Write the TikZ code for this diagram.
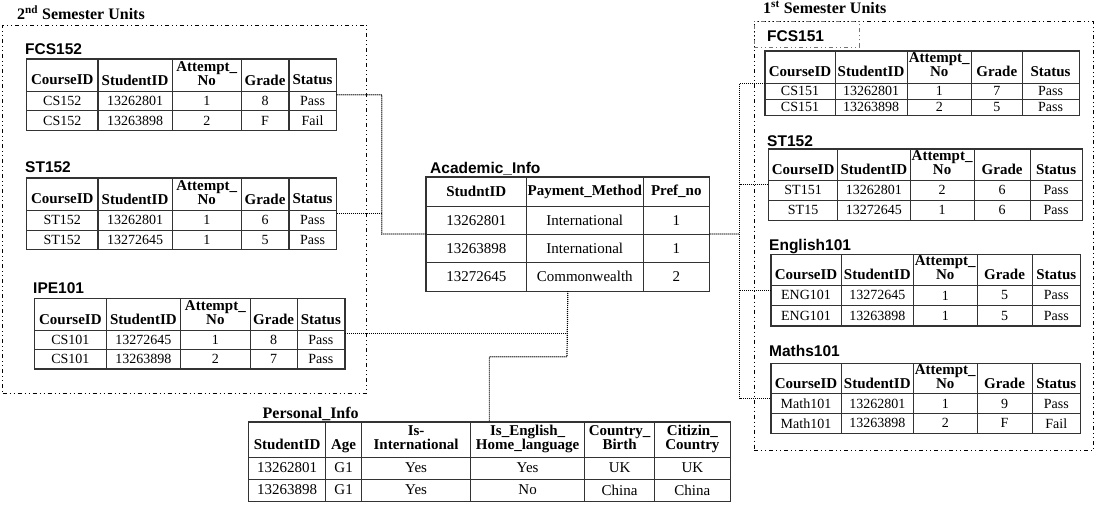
\documentclass[tikz,border=0pt]{standalone}
\usepackage{fontspec}
\setmainfont{Liberation Serif}
\newfontfamily\titlesans{Liberation Sans}
\usetikzlibrary{matrix}

\newcommand\smallcell{\fontsize{14}{13}\selectfont}
\newcommand\smallhead{\fontsize{15}{13.5}\selectfont\bfseries}
\newcommand\bigcell{\fontsize{15}{14.5}\selectfont}
% two-line header text, centred
\newcommand\hd[2]{\begin{tabular}{@{}c@{}}#1\\#2\end{tabular}}

\tikzset{
  cell/.style={draw=black!80, line width=0.6pt, inner sep=0pt, outer sep=0pt,
    anchor=center, text=black},
  tbl/.style={matrix of nodes, inner sep=0pt, outer sep=0pt,
    column sep=-0.6pt, row sep=-0.6pt, anchor=north west, nodes={cell}},
  smalltbl/.style={tbl, nodes={font=\smallcell}},
  bigtbl/.style={tbl, nodes={font=\bigcell}},
  cols5/.style n args={5}{
    column 1/.style={nodes={minimum width=#1}},
    column 2/.style={nodes={minimum width=#2}},
    column 3/.style={nodes={minimum width=#3}},
    column 4/.style={nodes={minimum width=#4}},
    column 5/.style={nodes={minimum width=#5}}},
  rows/.style 2 args={nodes={minimum height=#2},
    row 1/.style={nodes={minimum height=#1, font=\smallhead}}},
  bigrows/.style 2 args={nodes={minimum height=#2},
    row 1/.style={nodes={minimum height=#1, font=\bigcell\bfseries}}},
  frame/.style={draw=black!80, line width=1.2pt},
  tabtitle/.style={anchor=base west, inner sep=0pt, font=\titlesans\bfseries\fontsize{15.5}{16}\selectfont},
  grptitle/.style={anchor=base west, inner sep=0pt, font=\bfseries\fontsize{16}{16}\selectfont},
  grpbox/.style={draw=black, line width=0.9pt, inner sep=0pt, outer sep=0pt,
    dash pattern=on 4pt off 3pt on 1pt off 3pt on 1pt off 3pt, anchor=north west},
  conn/.style={draw=black, line width=1.2pt, dash pattern=on 1pt off 1pt},
}

\begin{document}
\begin{tikzpicture}[x=1pt,y=-1pt]
\useasboundingbox[fill=white] (0,0) rectangle (1097,505);

% ---------- semester groups ----------
\node (sem2) [grpbox, minimum width=364, minimum height=368] at (2.5,25) {};
\node (sem2lbl) [grptitle] at (17,20) {2\textsuperscript{nd} Semester Units};
\node (sem1) [grpbox, minimum width=339, minimum height=429] at (754,21.5) {};
\node (sem1lbl) [grptitle] at (763,14) {1\textsuperscript{st} Semester Units};
\node (fcsframe) [grpbox, draw=black!55, minimum width=105, minimum height=26] at (754,21.5) {};

% ---------- 2nd semester tables ----------
\node (t152) [tabtitle] at (25,55) {FCS152};
\matrix (fcs152) [smalltbl, cols5={71}{74.5}{69}{47.5}{47.5}, rows={32}{19.5}] at (26.5,59) {
  \hd{}{CourseID} & \hd{}{StudentID} & \hd{Attempt\_}{No} & \hd{}{Grade} & \hd{}{Status} \\
  CS152 & 13262801 & 1 & 8 & Pass \\
  CS152 & 13263898 & 2 & F & Fail \\
};
\draw[frame] (fcs152.north west) rectangle (fcs152.south east);

\node (tst152) [tabtitle] at (25,173) {ST152};
\matrix (st152) [smalltbl, cols5={71}{74.5}{69}{47.5}{47.5}, rows={32}{19.5}] at (26.5,178) {
  \hd{}{CourseID} & \hd{}{StudentID} & \hd{Attempt\_}{No} & \hd{}{Grade} & \hd{}{Status} \\
  ST152 & 13262801 & 1 & 6 & Pass \\
  ST152 & 13272645 & 1 & 5 & Pass \\
};
\draw[frame] (st152.north west) rectangle (st152.south east);

\node (tipe) [tabtitle] at (33,293) {IPE101};
\matrix (ipe101) [smalltbl, cols5={71.5}{74.5}{69.5}{47}{47.5}, rows={32}{19}] at (34.3,298.3) {
  \hd{}{CourseID} & \hd{}{StudentID} & \hd{Attempt\_}{No} & \hd{}{Grade} & \hd{}{Status} \\
  CS101 & 13272645 & 1 & 8 & Pass \\
  CS101 & 13263898 & 2 & 7 & Pass \\
};
\draw[frame] (ipe101.north west) rectangle (ipe101.south east);

% ---------- 1st semester tables ----------
\node (t151) [tabtitle] at (767,41.5) {FCS151};
\matrix (fcs151) [smalltbl, cols5={69.5}{72.5}{64}{51}{56.5}, rows={32}{16.2}] at (765,50.7) {
  \hd{}{CourseID} & \hd{}{StudentID} & \hd{Attempt\_}{No} & \hd{}{Grade} & \hd{}{Status} \\
  CS151 & 13262801 & 1 & 7 & Pass \\
  CS151 & 13263898 & 2 & 5 & Pass \\
};
\draw[frame] (fcs151.north west) rectangle (fcs151.south east);

\node (tst152r) [tabtitle] at (767,147) {ST152};
\matrix (st152r) [smalltbl, cols5={69}{72.5}{64}{56}{52}, rows={31}{20}] at (768.3,149) {
  \hd{}{CourseID} & \hd{}{StudentID} & \hd{Attempt\_}{No} & \hd{}{Grade} & \hd{}{Status} \\
  ST151 & 13262801 & 2 & 6 & Pass \\
  ST15 & 13272645 & 1 & 6 & Pass \\
};
\draw[frame] (st152r.north west) rectangle (st152r.south east);

\node (teng) [tabtitle] at (769,250) {English101};
\matrix (eng101) [smalltbl, cols5={70}{72.5}{63.5}{55}{48.5}, rows={30.7}{20.2}] at (770.7,254.3) {
  \hd{}{CourseID} & \hd{}{StudentID} & \hd{Attempt\_}{No} & \hd{}{Grade} & \hd{}{Status} \\
  ENG101 & 13272645 & 1 & 5 & Pass \\
  ENG101 & 13263898 & 1 & 5 & Pass \\
};
\draw[frame] (eng101.north west) rectangle (eng101.south east);

\node (tmath) [tabtitle] at (769,356.7) {Maths101};
\matrix (math101) [smalltbl, cols5={70}{72.5}{63.5}{55}{48.5}, rows={30}{19.8}] at (770.7,363.3) {
  \hd{}{CourseID} & \hd{}{StudentID} & \hd{Attempt\_}{No} & \hd{}{Grade} & \hd{}{Status} \\
  Math101 & 13262801 & 1 & 9 & Pass \\
  Math101 & 13263898 & 2 & F & Fail \\
};
\draw[frame] (math101.north west) rectangle (math101.south east);

% ---------- central tables ----------
\node (tacad) [tabtitle] at (430,173.5) {Academic\_Info};
\matrix (acad) [bigtbl, bigrows={29}{28.3},
  column 1/.style={nodes={minimum width=100}},
  column 2/.style={nodes={minimum width=117}},
  column 3/.style={nodes={minimum width=66}}] at (426,176.7) {
  StudntID & Payment\_Method & Pref\_no \\
  13262801 & International & 1 \\
  13263898 & International & 1 \\
  13272645 & Commonwealth & 2 \\
};
\draw[frame] (acad.north west) rectangle (acad.south east);

\node (tpers) [grptitle] at (262.5,418) {Personal\_Info};
\matrix (pers) [bigtbl, bigrows={35}{22},
  column 1/.style={nodes={minimum width=77}},
  column 2/.style={nodes={minimum width=36}},
  column 3/.style={nodes={minimum width=109}},
  column 4/.style={nodes={minimum width=114}},
  column 5/.style={nodes={minimum width=70}},
  column 6/.style={nodes={minimum width=75.5}}] at (248.3,421.7) {
  \hd{}{StudentID} & \hd{}{Age} & \hd{Is-}{International} & \hd{Is\_English\_}{Home\_language} & \hd{Country\_}{Birth} & \hd{Citizin\_}{Country} \\
  13262801 & G1 & Yes & Yes & UK & UK \\
  13263898 & G1 & Yes & No & China & China \\
};
\draw[frame] (pers.north west) rectangle (pers.south east);

% ---------- relationship lines ----------
\coordinate (busL) at (381.7,234);
\coordinate (busR) at (739.5,234);
\coordinate (busB) at (567,356.7);
\draw[conn] (fcs152.east) -| (busL) -- (acad.west);
\draw[conn] (st152.east) -- (st152.east -| busL);
\draw[conn] (acad.east) -- (busR);
\draw[conn] (fcs151.west) -| (math101.west -| busR) -- (math101.west);
\draw[conn] (st152r.west) -- (st152r.west -| busR);
\draw[conn] (eng101.west) -- (eng101.west -| busR);
\draw[conn] (acad.south) -- (busB) -| (pers.north);
\draw[conn] (ipe101.east) -- (ipe101.east -| acad.south);
\end{tikzpicture}
\end{document}
